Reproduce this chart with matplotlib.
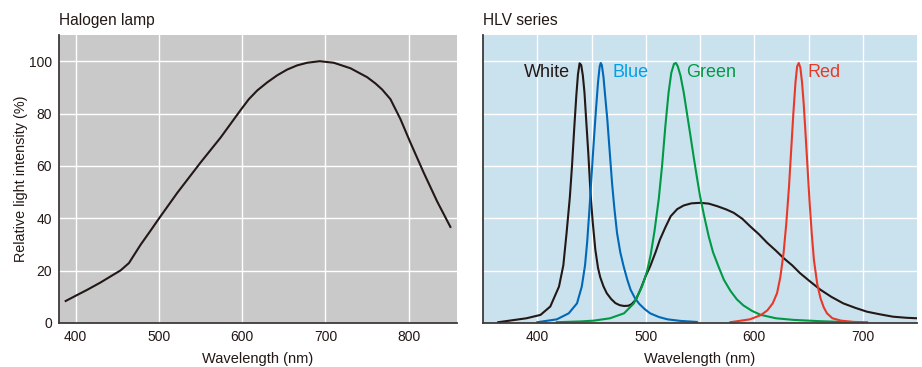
import numpy as np
import matplotlib
matplotlib.use("Agg")
import matplotlib.pyplot as plt

plt.rcParams["font.family"] = ["Liberation Sans", "DejaVu Sans"]

TXT = "#231815"

# halogen lamp spectrum (wavelength nm, relative %)
halogen_wl = [388, 400, 414, 430, 444, 454, 464, 478, 490, 500, 522, 550, 574, 598,
              608, 618, 630, 642, 654, 666, 678, 693, 710, 730, 750, 760, 768, 778,
              790, 802, 818, 834, 850]
halogen_val = [8.4, 10.4, 12.7, 15.5, 18.2, 20.1, 22.9, 29.9, 35.3, 39.9, 49.7, 61.3,
               70.8, 81.3, 85.5, 88.8, 91.9, 94.6, 96.8, 98.4, 99.4, 100.0, 99.4, 97.3,
               93.9, 91.5, 89.2, 85.5, 77.9, 68.9, 57.4, 46.5, 36.7]

# HLV series spectra
white_wl = [364, 390, 403, 412, 420, 424, 427, 430, 432, 434, 436, 437.5, 439, 440.5,
            442, 443.5, 445, 447, 449, 451, 453.5, 456, 458, 461, 464, 468, 472, 476,
            480, 484, 487, 491, 495, 500, 504, 509, 513, 518, 523, 529, 535, 542, 550,
            558, 566, 574, 581, 589, 596, 604, 612, 620, 627, 635, 642, 651, 661, 671,
            682, 693, 704, 716, 728, 740, 750]
white_val = [0.3, 1.8, 3.1, 6.3, 13.9, 22, 34.4, 48, 60, 74, 87, 95, 99.2, 98.5,
             94.5, 88, 78, 65, 50, 39, 28, 21, 17.5, 14, 11.4, 9.2, 7.6, 6.8,
             6.5, 6.6, 7.2, 9.0, 12.7, 18, 21.6, 27, 31.8, 36.5, 40.8, 43.5, 44.9, 45.7, 45.9,
             45.6, 44.6, 43.4, 42.1, 39.8, 37.0, 34.0, 30.6, 27.6, 24.8, 22.0, 19.1, 16.0, 12.7, 10.0,
             7.5, 5.8, 4.3, 3.3, 2.4, 2.0, 1.8]

blue_wl = [400, 418, 429, 436.6, 441, 444, 446, 448, 450, 452, 454, 456, 457.5, 458.5,
           459.5, 461, 462.5, 464.5, 467, 469, 471, 473.5, 476.5, 479.6, 483, 486, 490,
           494, 499, 504, 512, 520, 532, 547]
blue_val = [0.3, 1.4, 3.7, 7.5, 13.9, 22, 31, 43, 56, 69, 81, 92, 98, 99.3,
            98.5, 94, 87, 78, 64, 53, 44, 34.4, 27, 21.6, 16.5, 12.7, 9.5,
            7.3, 5.3, 3.7, 2.3, 1.4, 0.8, 0.4]

green_wl = [418, 440, 452, 467, 480, 489, 496.5, 501, 504.5, 508, 512, 515, 518,
            521, 523.5, 526, 527.8, 529.5, 532, 535, 538, 541, 544, 547, 550, 554, 558,
            562, 567, 572, 578, 584, 590, 598, 606, 620, 636, 660, 680, 694]
green_val = [0.3, 0.6, 0.9, 1.8, 3.7, 7.5, 13.9, 19.5, 26, 35, 47.5, 60, 75,
             88, 95.5, 99, 99.3, 98, 94.5, 88, 80, 72, 63.8, 56, 48.5, 40.5, 33.1,
             27, 21.6, 16.5, 12.3, 9.0, 6.7, 4.6, 3.1, 1.8, 1.2, 0.7, 0.4, 0.3]

red_wl = [578, 596, 606, 612, 617, 621, 624, 627, 629.5, 632, 634, 636, 638,
          639.5, 641, 642.5, 644, 645.5, 647, 649, 651, 653, 655, 658, 661, 664,
          667, 672, 680, 692, 704]
red_val = [0.3, 1.4, 3.0, 4.8, 7.5, 11.4, 17.5, 26.7, 38, 52, 66, 80, 92,
           98, 99.3, 97.5, 92, 84, 74, 60, 46, 34, 24, 15, 9.5, 6,
           3.7, 1.8, 0.9, 0.4, 0.3]

labels = ["White", "Blue", "Green", "Red"]
label_x = [430, 469, 537, 649]
label_ha = ["right", "left", "left", "left"]
line_colors = ["#231815", "#0068b7", "#009944", "#e83828"]
label_colors = ["#231815", "#00a0e9", "#009944", "#e83828"]

fig = plt.figure(figsize=(9.22, 3.67), dpi=100)
ax1 = fig.add_axes([0.064, 0.1199, 0.4317, 0.7847])
ax2 = fig.add_axes([0.5239, 0.1199, 0.4707, 0.7847])


def style(ax, bg):
    ax.set_facecolor(bg)
    for s in ("top", "right"):
        ax.spines[s].set_visible(False)
    for s in ("left", "bottom"):
        ax.spines[s].set_color("#3e3a39")
        ax.spines[s].set_linewidth(1.3)
    ax.tick_params(length=0, labelsize=10, colors=TXT, pad=5)
    ax.grid(True, color="white", lw=1.0)
    ax.set_axisbelow(True)
    ax.set_ylim(0, 110)
    ax.set_yticks([0, 20, 40, 60, 80, 100])
    ax.set_xlabel("Wavelength (nm)", fontsize=10.5, color=TXT, labelpad=6)


style(ax1, "#c9c9ca")
ax1.set_xlim(380, 858)
ax1.set_xticks([400, 500, 600, 700, 800])
ax1.plot(halogen_wl, halogen_val, color="#231815", lw=1.5)
ax1.set_ylabel("Relative light intensity (%)", fontsize=10.4, color=TXT, labelpad=1)
ax1.text(0.0, 1.025, "Halogen lamp", transform=ax1.transAxes, fontsize=11.2,
         color=TXT, ha="left", va="bottom")

style(ax2, "#cae2ee")
ax2.set_xlim(350, 750)
ax2.set_xticks([400, 450, 500, 550, 600, 650, 700])
ax2.set_xticklabels(["400", "", "500", "", "600", "", "700"])
ax2.tick_params(axis="y", labelleft=False)
series = [(white_wl, white_val), (blue_wl, blue_val),
          (green_wl, green_val), (red_wl, red_val)]
for (wl, val), c in zip(series, line_colors):
    ax2.plot(wl, val, color=c, lw=1.5)
for lab, lx, ha, c in zip(labels, label_x, label_ha, label_colors):
    ax2.text(lx, 95.5, lab, color=c, fontsize=13, ha=ha, va="center")
ax2.text(0.0, 1.025, "HLV series", transform=ax2.transAxes, fontsize=11.2,
         color=TXT, ha="left", va="bottom")

fig.savefig("out.png", dpi=100)
